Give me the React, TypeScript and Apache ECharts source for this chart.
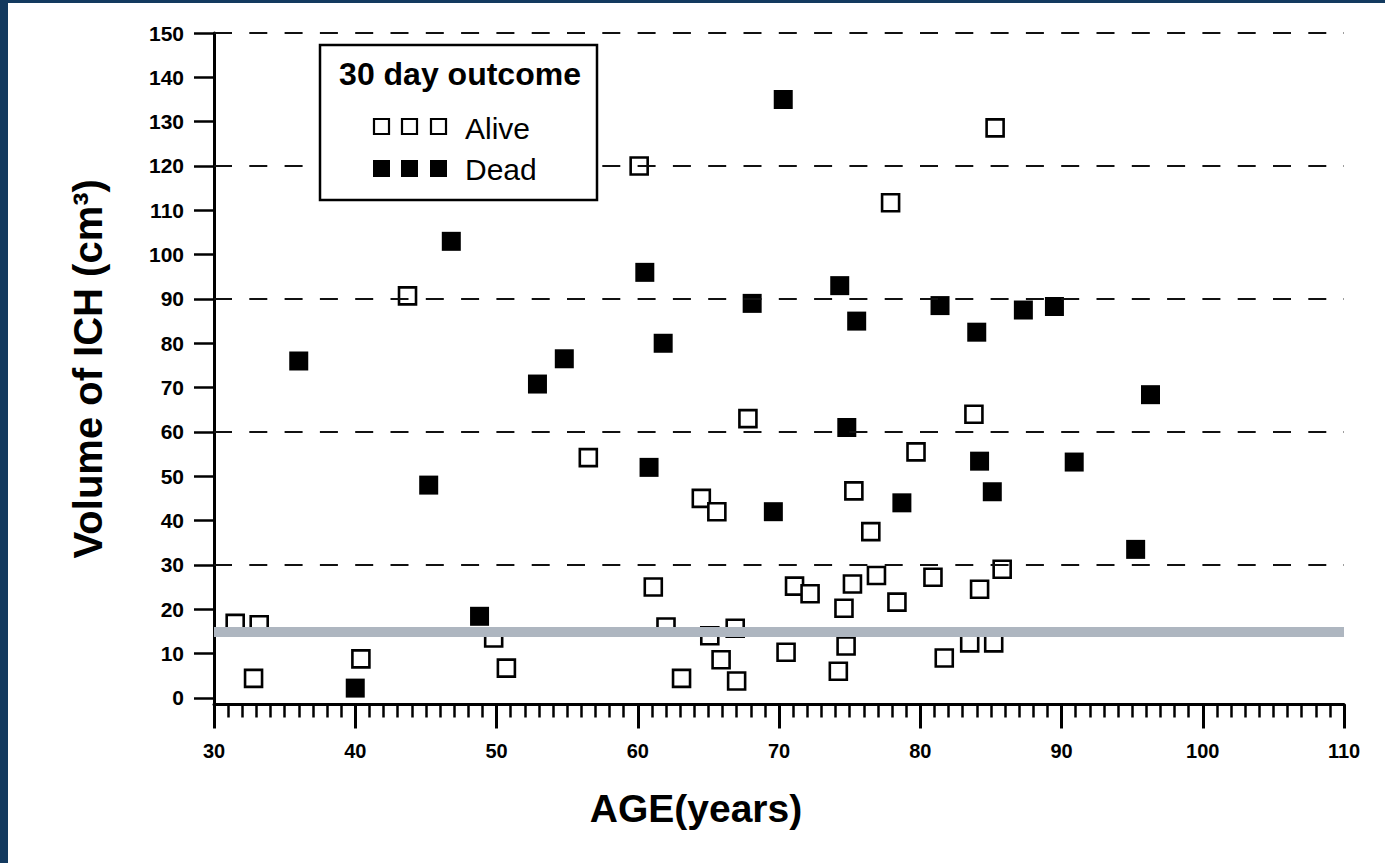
import React, { useEffect, useRef } from "react";
import * as echarts from "echarts";

// ---- Data (age in years, ICH volume in cm³) ----
const aliveAge = [31.5, 33.2, 32.8, 40.4, 43.7, 49.8, 50.7, 56.5, 60.1, 61.1, 62, 63.1, 64.5, 65.1, 65.6, 65.9, 66.9, 67, 67.8, 70.5, 71.1, 72.2, 74.2, 74.6, 74.75, 75.2, 75.3, 76.5, 76.9, 77.9, 78.35, 79.7, 80.9, 81.7, 83.5, 83.8, 84.2, 85.2, 85.3, 85.8];
const aliveVol = [16.8, 16.5, 4.4, 8.8, 90.7, 13.5, 6.7, 54.2, 120, 25, 16, 4.4, 45, 14, 42, 8.6, 15.7, 3.8, 63, 10.3, 25.2, 23.5, 6, 20.2, 11.7, 25.7, 46.7, 37.5, 27.6, 111.7, 21.6, 55.5, 27.2, 9, 12.4, 64, 24.5, 12.4, 128.6, 29];

const deadAge = [36, 40, 45.2, 46.8, 48.8, 52.9, 54.8, 60.5, 60.8, 61.8, 68.1, 69.6, 70.3, 74.3, 74.8, 75.5, 78.7, 81.4, 84, 84.2, 85.1, 87.3, 89.5, 90.9, 95.25, 96.3];
const deadVol = [76, 2.2, 48, 103, 18.4, 70.8, 76.5, 96, 52, 80, 89, 42, 135, 93, 61, 85, 44, 88.5, 82.5, 53.4, 46.5, 87.5, 88.3, 53.2, 33.5, 68.4];

const yTickValues = [0, 10, 20, 30, 40, 50, 60, 70, 80, 90, 100, 110, 120, 130, 140, 150];
const dashedLevels = [30, 60, 90, 120, 150];
const referenceLevel = 15;
const xTitle = "AGE(years)";
const yTitle = "Volume of ICH (cm³)";
const legendTitle = "30 day outcome";
const legendNames = ["Alive", "Dead"];

const FONT = "'Liberation Sans', Arial, Helvetica, sans-serif";
const NAVY = "#133a5f";

export default function App() {
  const ref = useRef<HTMLDivElement>(null);

  useEffect(() => {
    if (!ref.current) return;
    const chart = echarts.init(ref.current, null, { renderer: "svg" });

    const alive = aliveAge.map((a, i) => [a, aliveVol[i]]);
    const dead = deadAge.map((a, i) => [a, deadVol[i]]);

    const legendX = 320;
    const legendY = 45;
    const sq = 17;
    const sqX = [373, 401, 430];

    const graphic: any[] = [
      {
        type: "rect",
        shape: { x: legendX, y: legendY, width: 277, height: 155 },
        style: { fill: "#fff", stroke: "#000", lineWidth: 2.5 },
        z: 100,
      },
      {
        type: "text",
        x: 460,
        y: 74,
        style: {
          text: legendTitle,
          fontFamily: FONT,
          fontSize: 32,
          fontWeight: "bold",
          fill: "#000",
          align: "center",
          verticalAlign: "middle",
        },
        z: 101,
      },
      ...legendNames.map((n, k) => ({
        type: "text",
        x: 465,
        y: k === 0 ? 128 : 169,
        style: {
          text: n,
          fontFamily: FONT,
          fontSize: 30,
          fill: "#000",
          align: "left",
          verticalAlign: "middle",
        },
        z: 101,
      })),
      ...sqX.map((x) => ({
        type: "rect",
        shape: { x: x + 1, y: 119, width: sq - 2, height: sq - 2 },
        style: { fill: "#fff", stroke: "#000", lineWidth: 2.2 },
        z: 101,
      })),
      ...sqX.map((x) => ({
        type: "rect",
        shape: { x, y: 160, width: sq, height: sq },
        style: { fill: "#000" },
        z: 101,
      })),
    ];

    chart.setOption({
      animation: false,
      backgroundColor: "#fff",
      grid: { left: 214, right: 41, top: 33, bottom: 158.5, containLabel: false },
      xAxis: [
        {
          type: "value",
          position: "bottom",
          min: 30,
          max: 110,
          interval: 10,
          name: xTitle,
          nameLocation: "middle",
          nameGap: 84,
          nameTextStyle: { fontFamily: FONT, fontSize: 39, fontWeight: "bold", color: "#000", padding: [0, 166, 0, 0] },
          axisLine: { show: true, onZero: false, lineStyle: { color: "#000", width: 3 } },
          axisTick: { show: true, inside: false, length: 24, lineStyle: { color: "#000", width: 3 } },
          axisLabel: { fontFamily: FONT, fontSize: 20, fontWeight: "bold", color: "#000", margin: 36 },
          splitLine: { show: false },
        },
        {
          type: "value",
          position: "bottom",
          min: 30,
          max: 110,
          interval: 1,
          axisLine: { show: false, onZero: false },
          axisTick: { show: true, inside: false, length: 13, lineStyle: { color: "#000", width: 2.5 } },
          axisLabel: { show: false },
          splitLine: { show: false },
        },
      ],
      yAxis: {
        type: "value",
        min: -1.5,
        max: 150,
        name: yTitle,
        nameLocation: "middle",
        nameGap: 106,
        nameRotate: 90,
        nameTextStyle: { fontFamily: FONT, fontSize: 40, fontWeight: "bold", color: "#000" },
        axisLine: { show: true, onZero: false, lineStyle: { color: "#000", width: 3 } },
        axisTick: { show: true, inside: false, length: 20, customValues: yTickValues, lineStyle: { color: "#000", width: 2.5 } },
        axisLabel: { fontFamily: FONT, fontSize: 21, fontWeight: "bold", color: "#000", margin: 30, customValues: yTickValues },
        splitLine: { show: false },
      },
      graphic,
      series: [
        {
          type: "scatter",
          name: "grid-dashes",
          data: [],
          z: 1,
          silent: true,
          markLine: {
            silent: true,
            symbol: ["none", "none"],
            label: { show: false },
            lineStyle: { color: "#111", width: 2, type: [18, 17.3] },
            data: dashedLevels.map((v) => ({ yAxis: v })),
          },
        },
        {
          type: "scatter",
          name: "Alive",
          data: alive,
          symbol: "rect",
          symbolSize: 17,
          z: 3,
          itemStyle: { color: "#fff", borderColor: "#000", borderWidth: 2.6, opacity: 1 },
        },
        {
          type: "scatter",
          name: "Dead",
          data: dead,
          symbol: "rect",
          symbolSize: 19,
          z: 3,
          itemStyle: { color: "#000", opacity: 1 },
        },
        {
          type: "scatter",
          name: "band",
          data: [],
          z: 5,
          silent: true,
          markLine: {
            silent: true,
            symbol: ["none", "none"],
            label: { show: false },
            lineStyle: { color: "#aeb6c0", width: 10, type: "solid", cap: "butt" },
            data: [{ yAxis: referenceLevel }],
          },
        },
      ],
    });

    return () => chart.dispose();
  }, []);

  return (
    <div style={{ position: "fixed", left: 0, top: 0, width: 1385, height: 863, background: "#fff" }}>
      <div ref={ref} style={{ position: "absolute", left: 0, top: 0, width: 1385, height: 863 }} />
      <div style={{ position: "absolute", left: 0, top: 0, width: 8, height: 863, background: NAVY }} />
      <div style={{ position: "absolute", left: 0, top: 0, width: 1385, height: 3, background: NAVY }} />
    </div>
  );
}
